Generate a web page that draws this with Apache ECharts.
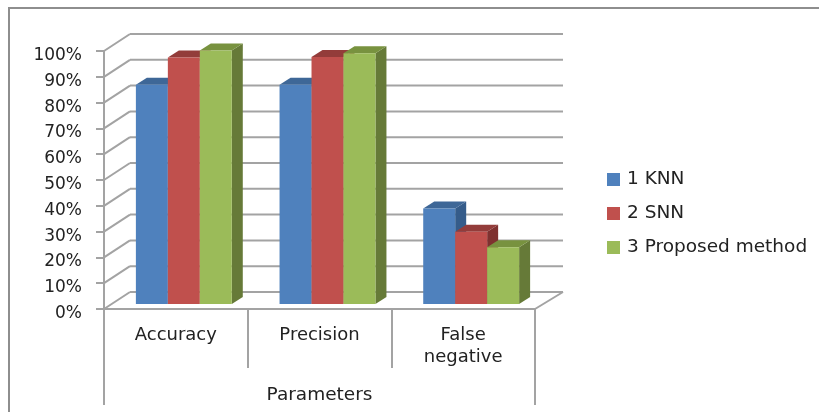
<!DOCTYPE html>
<html>
<head>
<meta charset="utf-8">
<style>html,body{margin:0;padding:0;background:#fff}#chart{width:819px;height:412px}</style>
<script src="https://cdn.jsdelivr.net/npm/echarts@6/dist/echarts.min.js"></script>
</head>
<body>
<div id="chart"></div>
<script>
const categories = ['Accuracy', 'Precision', 'False\nnegative']
const knn = [85, 85, 37]
const snn = [95.5, 95.7, 28]
const proposed = [98.3, 97.2, 22]
const yTicks = [0, 10, 20, 30, 40, 50, 60, 70, 80, 90, 100]

const gridColor = '#a3a3a3'
const fontName = 'DejaVu Sans'
const wallDx = 26, wallDy = -17   // back wall offset
const barDx = 8, barDy = -5       // front of bars sits a bit behind the axis plane
const depthDx = 11, depthDy = -7  // depth of one bar

const line = (x1, y1, x2, y2) => ({
  type: 'line',
  shape: { x1, y1, x2, y2 },
  style: { stroke: gridColor, lineWidth: 2 }
})

// walls: gridlines going back from the axis and across the back
const renderWall = (params, api) => {
  const y = api.coord([0, api.value(0)])[1]
  const c = params.coordSys
  const children = [
    line(c.x, y, c.x + wallDx, y + wallDy),
    line(c.x + wallDx, y + wallDy, c.x + c.width + wallDx + 2, y + wallDy)
  ]
  if (api.value(0) === 0) {
    children.push(line(c.x + c.width, y, c.x + c.width + wallDx + 2, y + wallDy))
    children.push(line(c.x, y, c.x, y + 96))
    children.push(line(c.x + c.width, y, c.x + c.width, y + 96))
  }
  return { type: 'group', children }
}

const renderBar = (index, front, top, side) => (params, api) => {
  const p = api.coord([api.value(0), api.value(1)])
  const base = api.coord([api.value(0), 0])
  const w = api.size([1, 0])[0] * 0.2225
  const x = p[0] + barDx + (index - 1.5) * w
  const y = p[1] + barDy
  const y0 = base[1] + barDy
  const poly = (points, fill) => ({ type: 'polygon', shape: { points }, style: { fill } })
  return {
    type: 'group',
    children: [
      poly([[x + w, y], [x + w + depthDx, y + depthDy], [x + w + depthDx, y0 + depthDy], [x + w, y0]], side),
      poly([[x, y], [x + depthDx, y + depthDy], [x + w + depthDx, y + depthDy], [x + w, y]], top),
      poly([[x, y], [x + w, y], [x + w, y0], [x, y0]], front)
    ]
  }
}

const barSeries = (name, values, index, front, top, side) => ({
  name,
  type: 'custom',
  itemStyle: { color: front },
  data: values.map((v, i) => [i, v]),
  encode: { x: 0, y: 1 },
  renderItem: renderBar(index, front, top, side),
  z: 3 + index
})

const chart = echarts.init(document.getElementById('chart'), null, { renderer: 'canvas' })
chart.setOption({
  animation: false,
  backgroundColor: '#fff',
  textStyle: { fontFamily: fontName },
  graphic: [{
    type: 'polyline',
    shape: { points: [[9, 412], [9, 8], [819, 8]] },
    style: { stroke: '#8e8e8e', lineWidth: 2, fill: 'none' }
  }],
  grid: { left: 104, top: 51, width: 431, height: 258 },
  legend: {
    data: ['1 KNN', '2 SNN', '3 Proposed method'],
    orient: 'vertical',
    left: 602,
    top: 165,
    icon: 'rect',
    itemWidth: 13,
    itemHeight: 13,
    itemGap: 15,
    textStyle: { fontFamily: fontName, fontSize: 18.5, color: '#222', padding: [0, 0, 0, 2] }
  },
  xAxis: {
    type: 'category',
    data: categories,
    name: 'Parameters',
    nameLocation: 'middle',
    nameGap: 77,
    nameTextStyle: { fontFamily: fontName, fontSize: 18.5, color: '#222' },
    axisLine: { lineStyle: { color: gridColor, width: 2 } },
    axisTick: { show: true, length: 59, lineStyle: { color: gridColor, width: 2 } },
    axisLabel: { margin: 15, fontSize: 18, lineHeight: 22, color: '#222', fontFamily: fontName, interval: 0 }
  },
  yAxis: {
    type: 'value',
    min: 0,
    max: 100,
    interval: 10,
    splitLine: { show: false },
    axisLine: { show: true, lineStyle: { color: gridColor, width: 2 } },
    axisTick: { show: true, length: 8, lineStyle: { color: gridColor, width: 2 } },
    axisLabel: { margin: 22, fontSize: 17, lineHeight: 9, verticalAlign: 'top', color: '#222', fontFamily: fontName, formatter: '{value}%' }
  },
  series: [
    {
      type: 'custom',
      data: yTicks.map(v => [v]),
      encode: { y: 0 },
      renderItem: renderWall,
      silent: true,
      z: 1
    },
    barSeries('1 KNN', knn, 0, '#4f81bd', '#3e6797', '#355c8a'),
    barSeries('2 SNN', snn, 1, '#c0504d', '#933c3a', '#7f3130'),
    barSeries('3 Proposed method', proposed, 2, '#9bbb59', '#78923f', '#667a38')
  ]
})
window.addEventListener('resize', () => chart.resize())
</script>
</body>
</html>
